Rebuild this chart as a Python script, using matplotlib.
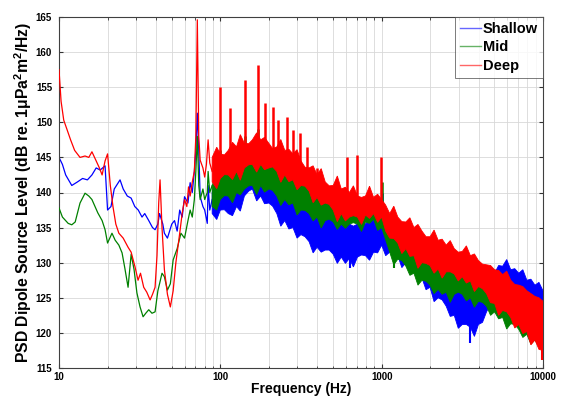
import numpy as np
import matplotlib
matplotlib.use("Agg")
import matplotlib.pyplot as plt

plt.rcParams['font.family'] = ['Liberation Sans', 'DejaVu Sans']
plt.rcParams['mathtext.default'] = 'regular'

# ---------------- data ----------------
series_names = ["Shallow", "Mid", "Deep"]
series_colors = ["#0000ff", "#008000", "#ff0000"]

# low-frequency single-line parts
shallow_f = [10, 10.5, 11, 12, 13, 14, 15, 16, 17, 18, 19.3, 20, 21, 22, 23.9, 25, 26.5, 28,
             29.5, 31, 32.7, 34, 36, 38, 39.4, 41, 42, 44, 45, 47, 50, 52, 54, 56, 58, 60, 63,
             65, 67, 69, 70.5, 72, 73.5, 75, 78, 80, 83, 84, 86, 89]
shallow_db = [145, 144, 142.5, 141, 141.5, 142, 141.8, 142.5, 143.5, 143.2, 143.8, 137.5, 138,
              140.5, 141.8, 140.5, 139.5, 139.2, 138, 137.5, 136.5, 137, 136, 135, 134.7, 135.5,
              137, 135.5, 134.2, 133.5, 135.5, 136, 134.5, 137.5, 136.5, 139.4, 138.5, 141.4,
              140, 143, 146, 151.3, 146, 139.4, 138, 137.5, 135.6, 141, 137.5, 139]

mid_f = [10, 10.5, 11.4, 12, 12.6, 13.5, 14.5, 15.3, 16, 17.4, 18.5, 19.3, 20, 21.3, 22.3, 23.5,
         24.6, 25.6, 26.8, 28, 29.2, 30.4, 31.8, 33.2, 34.5, 36, 37.7, 39.4, 41, 42, 43.5, 45,
         47, 49, 51, 54, 57, 60, 63, 65, 67, 69, 70.5, 72, 73.5, 75, 78, 80, 83, 84, 86, 89]
mid_db = [137.8, 136.5, 135.6, 135.4, 135.8, 138.5, 139.9, 139.5, 139, 137.1, 136, 134.7, 132.8,
          134.2, 133.2, 132.5, 131.4, 129.2, 126.5, 131.2, 129, 125.7, 123.7, 122.3, 122.8,
          123.3, 122.8, 123, 126, 127, 128.5, 128, 126.1, 127, 130.4, 132, 134.2, 133.5, 136,
          137.5, 136.5, 139, 143, 148, 141, 139, 140.5, 139, 140, 143, 140, 141]

deep_f = [10, 10.3, 10.7, 11.2, 11.8, 12.5, 13.5, 14.5, 15.3, 16, 17, 17.8, 18.5, 19.3, 20, 20.8,
          21.6, 22.5, 23.5, 25, 26.8, 28, 29.6, 30.9, 32, 33.5, 35, 36.7, 38, 39.4, 40.5, 41.5,
          42.3, 43.5, 45, 47, 49, 51, 53, 56, 58, 60, 62, 63.5, 65, 67, 69, 70.5, 72, 73.5, 75,
          78, 80, 82, 84, 86, 89]
deep_db = [157.5, 153, 150.3, 149, 147.5, 146, 145, 145.2, 145, 145.8, 144.5, 143.5, 142.5,
           144.5, 145.5, 141, 138, 135.5, 134.2, 133.5, 132.2, 131.5, 129.4, 127.5, 128.5, 126.5,
           125.8, 124.7, 125.5, 126.5, 131, 138.5, 141.8, 135, 129, 125.5, 123.7, 126, 130,
           134.2, 137, 139, 138, 140.8, 139.5, 141.5, 143, 148, 164.6, 148, 144.6, 143.5, 142.2,
           144, 147.5, 144.2, 143]

# noisy high-frequency band: upper / lower envelopes at two interleaved frequency grids
band_f = [89, 100, 112, 126, 141, 158, 178, 200, 224, 251, 282, 316, 355, 398, 447, 501, 562,
          631, 708, 794, 891, 1000, 1122, 1259, 1413, 1585, 1778, 1995, 2239, 2512, 2818, 3162,
          3548, 3981, 4467, 5012, 5623, 6310, 7079, 7943, 8913, 10000]
band_mid_f = [95, 106, 119, 133, 150, 168, 188, 211, 237, 266, 299, 335, 376, 422, 473, 531,
              596, 668, 750, 841, 944, 1059, 1189, 1334, 1496, 1679, 1884, 2113, 2371, 2661,
              2985, 3350, 3758, 4217, 4732, 5309, 5957, 6683, 7499, 8414, 9441]

shallow_hi = [140, 141.5, 141, 142.5, 144, 145.2, 145, 144, 142.5, 141.5, 140.5, 139.5, 138.5,
              137.5, 137, 136.5, 136, 135.5, 135.5, 135.5, 136, 137.5, 135.5, 135, 134, 133,
              132, 131, 130, 129, 128, 127.5, 127, 127, 127.5, 128.5, 129.5, 129, 128.5, 127.5,
              126.8, 126]
shallow_hi_mid = [141.65, 140.95, 142.85, 143.65, 144.4, 145.9, 145.0, 142.85, 143.0, 141.3,
                  140.7, 138.7, 138.6, 138.15, 136.55, 136.75, 136.55, 135.2, 136.1, 136.15,
                  137.45, 136.3, 136.15, 134.8, 133.2, 133.2, 131.9, 131.3, 129.3, 129.1, 128.05,
                  128.15, 126.8, 127.75, 129.1, 129.6, 130.45, 129.15, 129.0, 127.65, 127.2]
shallow_lo = [137, 137.5, 137, 138, 139.5, 140.5, 139.5, 138.5, 137, 136, 135, 134, 133, 132.2,
              131.8, 131.2, 130.8, 130.6, 130.8, 131, 131.5, 132.5, 131.5, 131, 130, 129, 127.8,
              126.5, 125, 123.8, 122.5, 121.2, 120.8, 121.2, 123, 124.5, 125.5, 125.3, 124.8,
              124, 123.2, 122.5]
shallow_lo_mid = [136.15, 137.55, 136.7, 137.35, 140.2, 138.8, 138.4, 138.05, 135.2, 134.8,
                  133.5, 133.7, 131.4, 131.5, 131.8, 129.9, 129.9, 129.4, 131.1, 130.35, 131.4,
                  131.0, 131.55, 129.3, 128.8, 128.6, 126.15, 124.45, 124.7, 122.35, 120.65,
                  121.2, 119.5, 121.5, 124.05, 124.0, 124.9, 124.25, 124.6, 122.9, 122.35]

mid_hi = [141, 143, 143.5, 144, 144.5, 145.5, 145.5, 145, 144, 143.5, 142.5, 141.5, 140.5, 140,
          139.5, 139, 138.5, 138.5, 138.5, 138.5, 138.8, 138.5, 136, 135, 134, 133, 132, 131,
          130.2, 129.5, 129, 128.5, 128, 127.5, 127, 126.5, 126, 125.5, 125, 124.5, 124, 123.5]
mid_hi_mid = [142.8, 143.45, 144.75, 144.05, 145.7, 145.8, 146.35, 144.2, 144.35, 143.9, 141.8,
              141.8, 140.65, 140.75, 138.95, 139.45, 139.0, 139.4, 138.3, 139.25, 139.05, 137.25,
              136.3, 134.2, 134.1, 132.9, 132.4, 130.4, 130.55, 129.55, 129.55, 128.05, 128.35,
              127.75, 127.65, 125.95, 126.35, 125.65, 125.55, 124.05, 124.25]
mid_lo = [138, 139, 139.5, 140, 140.5, 141, 141, 140.5, 139.5, 139, 138.5, 137.5, 137, 136.5,
          136, 135.8, 135.5, 135.5, 135.5, 135.8, 136.2, 135, 131.5, 130.5, 129.5, 128.5, 127.5,
          126.8, 126.2, 125.8, 125.5, 125.5, 125, 124.5, 123.8, 123, 122.2, 121.3, 120.5,
          119.8, 119, 118]
mid_lo_mid = [137.5, 139.55, 138.55, 139.65, 140.95, 139.7, 140.05, 140.3, 138.15, 138.25,
              136.8, 137.45, 135.95, 134.95, 136.2, 134.75, 134.9, 135.7, 134.45, 135.6, 134.6,
              133.25, 129.7, 130.3, 128.2, 126.8, 127.35, 125.6, 125.5, 124.35, 125.8, 124.55,
              123.65, 124.35, 122.5, 122.0, 120.55, 121.2, 119.35, 118.4, 118.0]

deep_hi = [145, 145.5, 146, 146.5, 147, 147.5, 147.5, 147, 146.5, 146, 145.5, 144.5, 143.5,
           142.5, 141.5, 141, 140.5, 140, 139.5, 139.5, 139.3, 139, 137, 136.5, 135.8, 135,
           134.5, 133.7, 133.2, 132.5, 132, 131.6, 131, 130.3, 129.7, 129, 128.3, 127.5, 126.8,
           126, 125.2, 124.5]
deep_hi_mid = [146.45, 145.35, 147.15, 148.25, 146.95, 148.5, 147.85, 146.25, 147.55, 146.15,
               146.1, 143.6, 143.8, 143.4, 140.95, 142.35, 140.75, 140.95, 139.3, 140.9, 139.75,
               138.2, 138.05, 135.85, 136.4, 135.45, 133.7, 134.65, 133.35, 133.15, 131.5,
               132.4, 131.25, 129.8, 129.6, 128.9, 128.8, 126.9, 126.6, 125.6, 125.0]
deep_lo = [141.5, 142, 142.5, 143, 143.5, 144, 144, 143.5, 143, 142.5, 141.8, 141, 140.2, 139.3,
           138.5, 137.5, 137, 136.5, 136.5, 136.8, 137, 136.5, 133.5, 132.8, 132, 131, 130,
           129.6, 129.1, 128.7, 128.4, 128.0, 127.4, 126.6, 125.6, 124.2, 123.2, 122.2, 121.2,
           120.2, 119, 117.5]
deep_lo_mid = [140.55, 142.55, 141.85, 141.75, 143.95, 142.9, 143.25, 143.65, 141.45, 141.55,
               140.4, 140.9, 138.55, 138.2, 138.3, 135.85, 135.95, 136.7, 135.45, 136.3, 135.75,
               134.5, 133.45, 131.3, 130.9, 129.2, 129.9, 128.5, 127.8, 128.7, 127.4, 127.1,
               125.9, 126.3, 124.3, 122.5, 123.0, 120.7, 119.9, 118.3, 117.65]

# tonal peaks (above the band) and deepest dips (below the band)
shallow_peak_f = [100, 115, 142, 171, 1000]
shallow_peak_db = [143, 142.5, 146.5, 146.5, 140]
mid_peak_f = [100, 115, 142, 171, 216, 1000]
mid_peak_db = [146, 145, 148, 149, 146, 141.5]
deep_peak_f = [100, 115, 142, 171, 188, 212, 228, 259, 282, 311, 345, 397, 610, 700, 990]
deep_peak_db = [155, 152, 156, 158.2, 152.7, 152.2, 150.3, 150.7, 148.9, 148.5, 146.5, 143.5,
                145, 145.3, 145]
shallow_dip_f = [640, 3530]
shallow_dip_db = [129.3, 118.6]
mid_dip_f = [1200]
mid_dip_db = [129.3]
deep_dip_f = [9800]
deep_dip_db = [116.2]

x_ticks = [10, 100, 1000, 10000]
x_tick_labels = ["10", "100", "1000", "10000"]
y_ticks = [115, 120, 125, 130, 135, 140, 145, 150, 155, 160, 165]

# ---------------- figure ----------------
fig = plt.figure(figsize=(5.65, 3.98), dpi=100)
ax = fig.add_axes([59 / 565, 1 - 368 / 398, (543 - 59) / 565, (368 - 17) / 398])

series = [
    (shallow_f, shallow_db, shallow_hi, shallow_hi_mid, shallow_lo, shallow_lo_mid,
     shallow_peak_f, shallow_peak_db, shallow_dip_f, shallow_dip_db),
    (mid_f, mid_db, mid_hi, mid_hi_mid, mid_lo, mid_lo_mid,
     mid_peak_f, mid_peak_db, mid_dip_f, mid_dip_db),
    (deep_f, deep_db, deep_hi, deep_hi_mid, deep_lo, deep_lo_mid,
     deep_peak_f, deep_peak_db, deep_dip_f, deep_dip_db),
]


def merged_edge(f_a, v_a, f_b, v_b):
    f = np.concatenate([f_a, f_b])
    v = np.concatenate([v_a, v_b])
    order = np.argsort(f)
    return f[order], v[order]


lb = np.log10(band_f)
handles = []
for i, (lf, ldb, hi, hi_m, lo, lo_m, pf, pdb, dpf, dpdb) in enumerate(series):
    c = series_colors[i]
    z = 2 + i
    h, = ax.plot(lf, ldb, color=c, lw=0.9, zorder=z, label=series_names[i])
    uf, uv = merged_edge(band_f, hi, band_mid_f, hi_m)
    df, dv = merged_edge(band_f, lo, band_mid_f, lo_m)
    ax.fill(np.concatenate([uf, df[::-1]]), np.concatenate([uv, dv[::-1]]),
            color=c, lw=0.6, zorder=z)
    ax.vlines(pf, np.interp(np.log10(pf), lb, hi) - 0.5, pdb, color=c, lw=1.8, zorder=z)
    ax.vlines(dpf, dpdb, np.interp(np.log10(dpf), lb, lo) + 0.5, color=c, lw=1.5, zorder=z)
    handles.append(h)

ax.set_xscale('log')
ax.set_xlim(10, 10000)
ax.set_ylim(115, 165)
ax.set_xticks(x_ticks)
ax.set_xticklabels(x_tick_labels)
ax.set_yticks(y_ticks)

ax.grid(True, which='major', color='#d8d8d8', lw=0.6, zorder=0)
ax.grid(True, which='minor', axis='x', color='#d8d8d8', lw=0.6, zorder=0)
ax.set_axisbelow(True)

ax.tick_params(which='both', direction='in', top=True, right=True, labelsize=7,
               colors='#333333', labelcolor='black')
ax.tick_params(axis='y', pad=5)
ax.tick_params(axis='x', pad=3)
ax.tick_params(which='major', length=3)
ax.tick_params(which='minor', length=1.8)
for lab in ax.get_xticklabels() + ax.get_yticklabels():
    lab.set_fontweight('bold')
for sp in ax.spines.values():
    sp.set_color('#404040')
    sp.set_linewidth(0.8)

ax.set_xlabel("Frequency (Hz)", fontsize=10, fontweight='bold', labelpad=0)
ax.set_ylabel("PSD Dipole Source Level (dB re. 1\u03bcPa$^2$m$^2$/Hz)", fontsize=11.3,
              fontweight='bold', labelpad=1)

leg = ax.legend(handles=handles, loc='upper right', prop={'weight': 'bold', 'size': 10.5},
                frameon=True, fancybox=False, borderaxespad=0.0, handlelength=1.4,
                handletextpad=0.15, labelspacing=0.3, borderpad=0.35)
leg.get_frame().set_edgecolor('#404040')
leg.get_frame().set_linewidth(0.6)
for lh in leg.get_lines():
    lh.set_linewidth(1.0)
    lh.set_alpha(0.6)

fig.savefig("out.png", dpi=100)
